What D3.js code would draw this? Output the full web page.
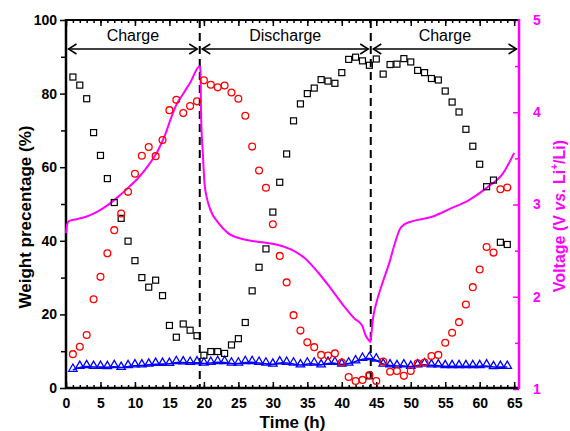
<!DOCTYPE html>
<html><head><meta charset="utf-8">
<script src="https://cdn.jsdelivr.net/npm/d3@7"></script>
<style>body{margin:0;background:#fff}svg{display:block}text{font-family:"Liberation Sans",Arial,sans-serif}</style>
</head><body><svg id="c" width="570" height="431"></svg>
<script>
// ---- data ----
const hours = d3.range(1, 65); // 1..64
const squareVals = [84.5,82.3,78.6,69.4,63.2,56.9,50.4,46.1,39.9,34.6,30.0,27.4,29.3,25.1,17.0,13.8,17.4,15.7,14.2,
  8.9,9.9,9.9,9.4,11.7,13.4,17.8,26.4,32.8,37.8,47.8,55.9,63.6,72.6,77.2,80.0,81.5,83.8,83.4,82.8,85.7,
  89.3,89.9,88.9,87.7,89.4,85.3,87.9,88.0,89.5,88.6,86.3,85.7,84.1,83.7,80.7,77.7,75.0,70.3,65.7,60.8,54.7,56.5,39.6,39.0];
const squareExtraT = [44];
const squareExtraV = [3.3];
const circleVals = [9.2,11.2,14.4,24.1,30.2,36.6,42.9,47.4,53.3,58.2,63.1,65.5,63.0,67.4,75.5,78.3,74.7,76.6,77.9,
  83.6,82.4,81.7,82.2,80.3,78.6,74.0,65.6,59.1,54.4,44.5,35.9,28.7,19.8,15.6,12.4,11.1,9.0,8.8,9.4,6.9,
  3.0,1.9,2.2,3.5,1.9,7.2,4.4,4.6,3.3,4.6,6.7,6.9,8.7,9.0,12.3,15.0,17.9,22.7,27.4,32.2,38.3,36.8,54.0,54.5];
const triangleVals = [5.3,6.1,6.3,6.1,6.1,6.0,6.3,5.8,6.3,6.5,6.5,6.7,6.9,6.9,6.9,7.4,7.3,7.2,7.3,
  7.0,7.2,7.4,7.4,7.0,7.0,7.4,7.4,7.2,7.0,6.7,7.3,7.2,7.0,6.5,7.0,7.0,6.5,7.2,7.2,6.7,
  7.0,7.6,8.3,8.5,8.1,6.7,6.5,6.3,6.5,6.1,6.5,6.8,6.5,6.5,6.3,6.3,6.3,6.3,6.3,6.3,6.5,6.0,6.1,6.1];
const voltT = [0,0.15,0.4,1.5,3,4.5,6,7.5,9,10.5,12,13.3,14.3,15.2,16,17,18,19.4,
  19.5,19.6,19.85,20.1,20.5,20.9,22.1,23.5,25.9,28.4,30.8,32.7,34.6,36.6,38.5,40.4,41.9,42.6,43.0,43.4,43.9,44.15,
  44.3,44.5,45,45.9,46.9,47.7,48.4,49.2,50.3,53.2,55.6,58.5,61,63.4,65];
const voltV = [2.69,2.78,2.82,2.84,2.87,2.92,2.99,3.08,3.18,3.29,3.43,3.58,3.74,3.93,4.08,4.2,4.32,4.50,
  4.45,3.95,3.55,3.22,3.05,2.95,2.80,2.69,2.62,2.59,2.56,2.51,2.42,2.26,2.08,1.89,1.76,1.72,1.68,1.59,1.53,1.51,
  1.6,1.75,1.93,2.15,2.37,2.58,2.73,2.79,2.82,2.87,2.95,3.05,3.18,3.34,3.56];
const phaseBounds = [19.4, 44.2];
const phaseLabels = ["Charge", "Discharge", "Charge"];
const xTicks = [0,5,10,15,20,25,30,35,40,45,50,55,60,65];
const yTicks = [0,20,40,60,80,100];
const vTicks = [1,2,3,4,5];

// ---- layout ----
const svg = d3.select("#c");
const L = 66, R = 519, T = 20, B = 388;
const MAG = "#ff00ff";
const x = d3.scaleLinear().domain([0, 65.7]).range([L, R]);
const y = d3.scaleLinear().domain([0, 100]).range([B, T]);
const yv = d3.scaleLinear().domain([1, 5]).range([B + 1, T]);

// minor ticks (axes without labels)
const minorX = d3.range(0, 66, 1);
svg.append("g").attr("transform", `translate(0,${B})`)
  .call(d3.axisBottom(x).tickValues(minorX).tickSize(-3).tickFormat(""))
  .call(g => g.select(".domain").remove()).selectAll("line").attr("stroke", "#000").attr("stroke-width", 1.5);
svg.append("g").attr("transform", `translate(0,${B})`)
  .call(d3.axisBottom(x).tickValues(xTicks).tickSize(-6).tickFormat(""))
  .call(g => g.select(".domain").remove()).selectAll("line").attr("stroke", "#000").attr("stroke-width", 1.5);
svg.append("g").attr("transform", `translate(0,${T})`)
  .call(d3.axisTop(x).tickValues(minorX).tickSize(-3).tickFormat(""))
  .call(g => g.select(".domain").remove()).selectAll("line").attr("stroke", "#000").attr("stroke-width", 1.5);
svg.append("g").attr("transform", `translate(0,${T})`)
  .call(d3.axisTop(x).tickValues(xTicks).tickSize(-6).tickFormat(""))
  .call(g => g.select(".domain").remove()).selectAll("line").attr("stroke", "#000").attr("stroke-width", 1.5);
svg.append("g").attr("transform", `translate(${L},0)`)
  .call(d3.axisLeft(y).tickValues(d3.range(10, 100, 20)).tickSize(5).tickFormat(""))
  .call(g => g.select(".domain").remove()).selectAll("line").attr("stroke", "#000").attr("stroke-width", 1.5);
svg.append("g").attr("transform", `translate(${R},0)`)
  .call(d3.axisRight(yv).tickValues(d3.range(1.5, 5, 1)).tickSize(-4).tickFormat(""))
  .call(g => g.select(".domain").remove()).selectAll("line").attr("stroke", MAG).attr("stroke-width", 1.5);

// major axes with labels
const bx = svg.append("g").attr("transform", `translate(0,${B})`)
  .call(d3.axisBottom(x).tickValues(xTicks).tickSize(0).tickPadding(10).tickSizeOuter(0));
bx.select(".domain").remove();
bx.selectAll("text").attr("font-size", 14).attr("font-weight", "bold").attr("fill", "#000");

const ly = svg.append("g").attr("transform", `translate(${L},0)`)
  .call(d3.axisLeft(y).tickValues(yTicks).tickSize(6).tickPadding(3).tickSizeOuter(0));
ly.select(".domain").remove();
ly.selectAll("line").attr("stroke", "#000").attr("stroke-width", 1.5);
ly.selectAll("text").attr("font-size", 14).attr("font-weight", "bold").attr("fill", "#000");

const ry = svg.append("g").attr("transform", `translate(${R},0)`)
  .call(d3.axisRight(yv).tickValues(vTicks).tickFormat(d3.format("d")).tickSize(-6).tickPadding(14).tickSizeOuter(0));
ry.select(".domain").remove();
ry.selectAll("line").attr("stroke", MAG).attr("stroke-width", 1.5);
ry.selectAll("text").attr("font-size", 14).attr("font-weight", "bold").attr("fill", MAG);

// frame
svg.append("line").attr("x1", L).attr("x2", R).attr("y1", T).attr("y2", T).attr("stroke", "#000").attr("stroke-width", 2);
svg.append("line").attr("x1", L - 1).attr("x2", R).attr("y1", B).attr("y2", B).attr("stroke", "#000").attr("stroke-width", 2.5);
svg.append("line").attr("x1", L).attr("x2", L).attr("y1", T - 1).attr("y2", B + 1).attr("stroke", "#000").attr("stroke-width", 2.5);
svg.append("line").attr("x1", R).attr("x2", R).attr("y1", T - 1).attr("y2", B + 1).attr("stroke", MAG).attr("stroke-width", 2.5);

// phase boundaries
phaseBounds.forEach(b => {
  svg.append("line").attr("x1", x(b)).attr("x2", x(b)).attr("y1", T).attr("y2", B)
    .attr("stroke", "#000").attr("stroke-width", 2).attr("stroke-dasharray", "8,5");
});

// arrows and labels
const edges = [0, ...phaseBounds, 65.7];
const arrowY = 49;
phaseLabels.forEach((lab, i) => {
  const x0 = x(edges[i]) + 2.5, x1 = x(edges[i + 1]) - 2.5;
  const g = svg.append("g").attr("stroke", "#000").attr("stroke-width", 1.5).attr("fill", "none");
  g.append("line").attr("x1", x0).attr("x2", x1).attr("y1", arrowY).attr("y2", arrowY);
  g.append("path").attr("d", `M${x0 + 8},${arrowY - 5}L${x0},${arrowY}L${x0 + 8},${arrowY + 5}`);
  g.append("path").attr("d", `M${x1 - 8},${arrowY - 5}L${x1},${arrowY}L${x1 - 8},${arrowY + 5}`);
  svg.append("text").attr("x", (x0 + x1) / 2).attr("y", 41).attr("text-anchor", "middle")
    .attr("font-size", 16).attr("fill", "#000").text(lab);
});

// blue line + triangles
const tri = hours.map((h, i) => [h, triangleVals[i]]);
svg.append("path").datum(tri)
  .attr("d", d3.line().x(d => x(d[0])).y(d => y(d[1]) + 1.5).curve(d3.curveBasis))
  .attr("fill", "none").attr("stroke", "#0000ff").attr("stroke-width", 1.6);
svg.append("g").selectAll("path").data(tri).join("path")
  .attr("transform", d => `translate(${x(d[0])},${y(d[1])})`)
  .attr("d", "M0,-4.5L4.2,2.8L-4.2,2.8Z")
  .attr("fill", "none").attr("stroke", "#0000ff").attr("stroke-width", 1.3);

// voltage line
svg.append("path").datum(voltT.map((t, i) => [t, voltV[i]]))
  .attr("d", d3.line().x(d => x(d[0])).y(d => yv(d[1])).curve(d3.curveMonotoneX))
  .attr("fill", "none").attr("stroke", MAG).attr("stroke-width", 2);

// squares
const sq = hours.map((h, i) => [h, squareVals[i]]).concat(squareExtraT.map((t, i) => [t, squareExtraV[i]]));
svg.append("g").selectAll("rect").data(sq).join("rect")
  .attr("x", d => x(d[0]) - 3).attr("y", d => y(d[1]) - 3).attr("width", 6).attr("height", 6)
  .attr("fill", "none").attr("stroke", "#000").attr("stroke-width", 1.2);

// circles
svg.append("g").selectAll("circle").data(hours.map((h, i) => [h, circleVals[i]])).join("circle")
  .attr("cx", d => x(d[0])).attr("cy", d => y(d[1])).attr("r", 3.4)
  .attr("fill", "none").attr("stroke", "#ff0000").attr("stroke-width", 1.3);

// axis titles
svg.append("text").attr("x", (L + R) / 2).attr("y", 428).attr("text-anchor", "middle")
  .attr("font-size", 17).attr("font-weight", "bold").text("Time (h)");
svg.append("text").attr("transform", "translate(31,217) rotate(-90)").attr("text-anchor", "middle")
  .attr("font-size", 17).attr("font-weight", "bold").text("Weight precentage (%)");
const vt = svg.append("text").attr("transform", "translate(565,216) rotate(-90)").attr("text-anchor", "middle")
  .attr("font-size", 16).attr("font-weight", "bold").attr("fill", MAG);
vt.append("tspan").text("Voltage (V ");
vt.append("tspan").attr("font-style", "italic").text("vs.");
vt.append("tspan").text(" Li");
vt.append("tspan").attr("font-size", 10).attr("dy", -7).text("+");
vt.append("tspan").attr("dy", 7).text("/Li)");
</script></body></html>
